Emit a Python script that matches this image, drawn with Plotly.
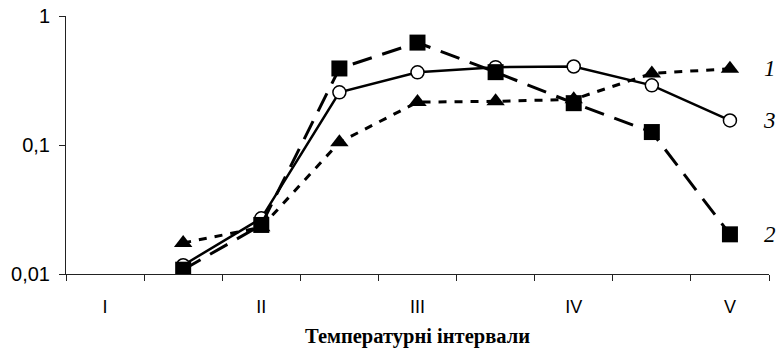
import math
import plotly.graph_objects as go

# category slots (9 slots; roman labels on odd slots)
slots = [1, 2, 3, 4, 5, 6, 7, 8, 9]
boundaries = [0.5, 1.5, 2.5, 3.5, 4.5, 5.5, 6.5, 7.5, 8.5, 9.5]
roman_pos = [1, 3, 5, 7, 9]
roman_labels = ["I", "II", "III", "IV", "V"]

series1 = [None, 0.0174, 0.023, 0.105, 0.215, 0.218, 0.226, 0.359, 0.390]   # triangles, label 1
series2 = [None, 0.0108, 0.024, 0.392, 0.622, 0.367, 0.211, 0.126, 0.0203]  # squares, label 2
series3 = [None, 0.0117, 0.027, 0.256, 0.366, 0.401, 0.406, 0.290, 0.155]   # circles, label 3

y_tickvals = [0.01, 0.1, 1]
y_ticktext = ["0,01", "0,1", "1"]

x_title = "Температурні інтервали"

fig = go.Figure()

fig.add_trace(go.Scatter(
    x=slots, y=series3, mode="lines+markers", name="3",
    line=dict(color="black", width=2.5),
    marker=dict(symbol="circle", size=13, color="white",
                line=dict(color="black", width=1.5)),
))
fig.add_trace(go.Scatter(
    x=slots, y=series1, mode="lines+markers", name="1",
    line=dict(color="black", width=3, dash="8px,8px"),
    marker=dict(symbol="triangle-up", size=16, color="black"),
))
fig.add_trace(go.Scatter(
    x=slots, y=series2, mode="lines+markers", name="2",
    line=dict(color="black", width=3, dash="20px,11px"),
    marker=dict(symbol="square", size=16, color="black"),
))

# annotations on a log axis take log10 positions
labels = [("1", series1[-1]), ("2", series2[-1]), ("3", series3[-1])]
for txt, yv in labels:
    fig.add_annotation(
        x=slots[-1], y=math.log10(yv), xref="x", yref="y", text=txt, showarrow=False,
        xshift=40, xanchor="center", yanchor="middle",
        font=dict(family="Liberation Serif", size=23, color="black", style="italic"),
    )

fig.add_annotation(
    x=0.5, y=0, xref="paper", yref="paper", text=x_title, showarrow=False,
    yshift=-62, xanchor="center", yanchor="middle",
    font=dict(family="Liberation Serif", size=20.5, color="black", weight="bold"),
)

fig.update_layout(
    width=778, height=351,
    margin=dict(l=66, r=9, t=16, b=77),
    paper_bgcolor="white", plot_bgcolor="white",
    showlegend=False,
    xaxis=dict(
        range=[0.5, 9.5], tickmode="array", tickvals=roman_pos, ticktext=roman_labels,
        ticks="", showline=True, linecolor="#222", linewidth=1,
        showgrid=False, zeroline=False, ticklabelstandoff=16, automargin=False,
        tickfont=dict(family="Liberation Sans", size=18, color="black"),
        minor=dict(tickmode="array", tickvals=boundaries, ticks="outside",
                   ticklen=6, tickcolor="#222", tickwidth=1, showgrid=False),
    ),
    yaxis=dict(
        type="log", range=[-2, 0], tickmode="array",
        tickvals=y_tickvals, ticktext=y_ticktext,
        ticks="outside", ticklen=6, tickcolor="#222",
        showline=True, linecolor="#222", linewidth=1,
        showgrid=False, zeroline=False, ticklabeloverflow="allow",
        ticklabelstandoff=5, automargin=False,
        tickfont=dict(family="Liberation Sans", size=20, color="black"),
    ),
)

# remove the default page margin so the figure fills the 778x351 window exactly
fig.write_html(
    "out.html",
    config={"displayModeBar": False},
    post_script="document.body.style.margin='0';document.body.style.overflow='hidden';",
)
